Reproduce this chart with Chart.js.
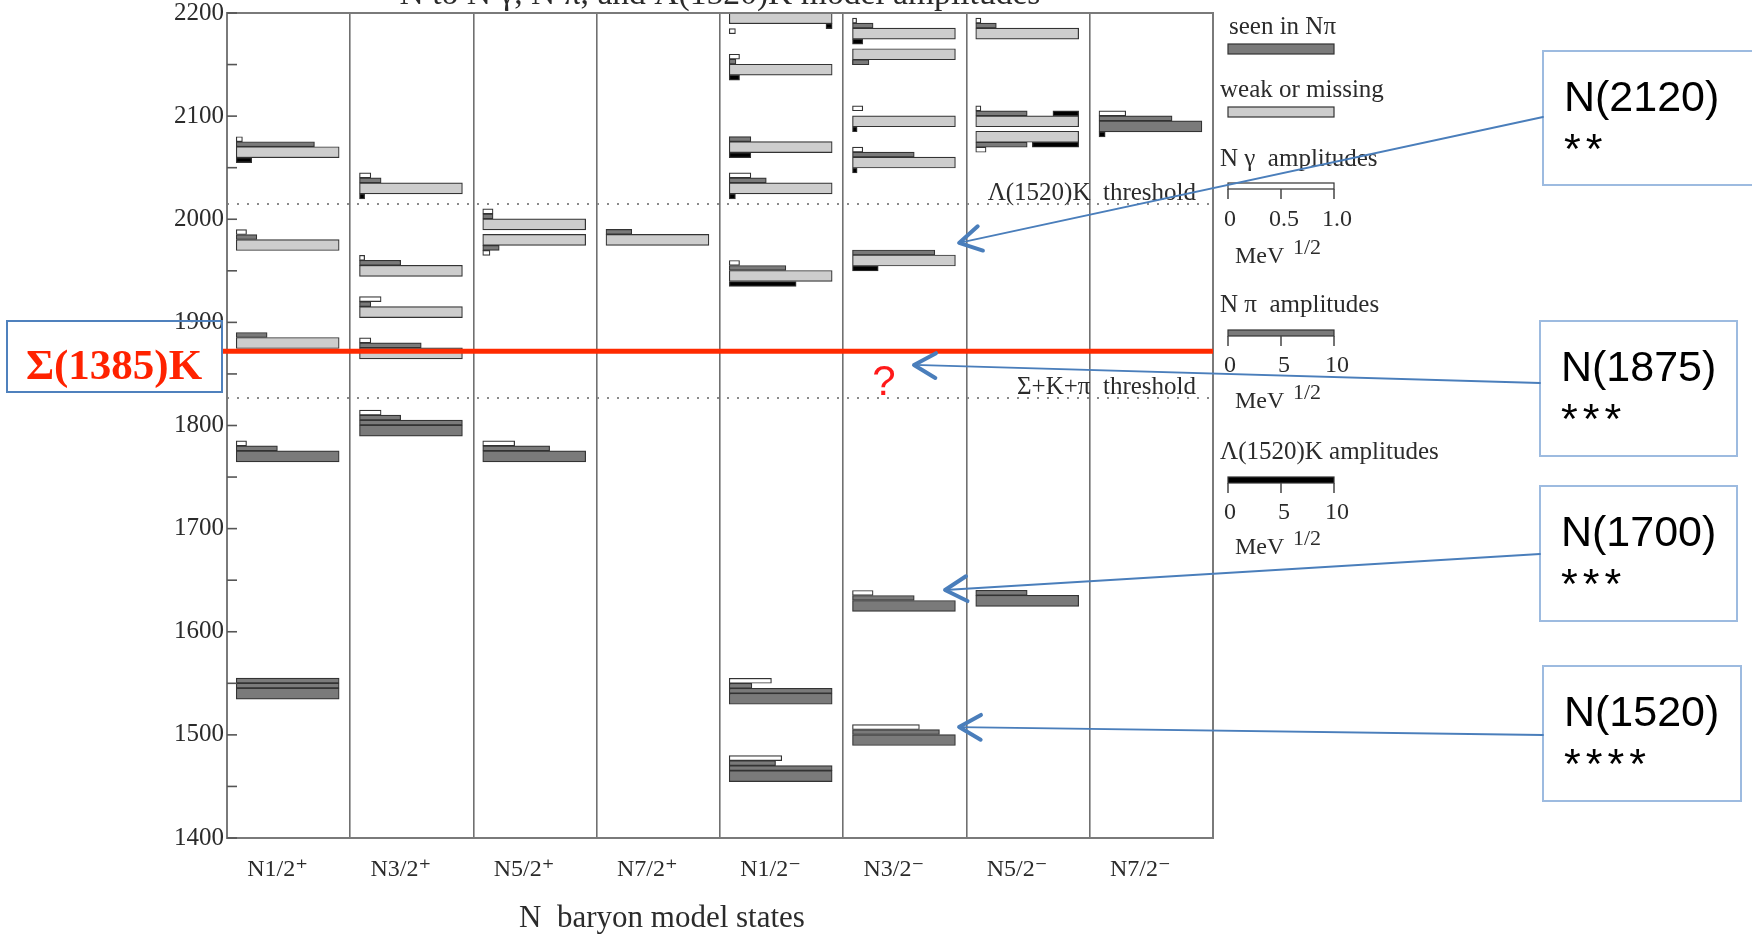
<!DOCTYPE html>
<html>
<head>
<meta charset="utf-8">
<script src="https://cdn.jsdelivr.net/npm/chart.js@4/dist/chart.umd.min.js"></script>
<style>
  html, body { margin: 0; padding: 0; background: #fff; overflow: hidden; }
  #wrap { width: 1752px; height: 934px; position: relative; }
</style>
</head>
<body>
<div id="wrap"><canvas id="c" width="1752" height="934"></canvas></div>
<script>
// ---- data -------------------------------------------------------------
const categories = ['N1/2⁺', 'N3/2⁺', 'N5/2⁺', 'N7/2⁺', 'N1/2⁻', 'N3/2⁻', 'N5/2⁻', 'N7/2⁻'];

// model states: column (index into categories), mass in MeV, seen in Nπ
const stateColumn = [0, 0, 0, 0, 0,   1, 1, 1, 1, 1,   2, 2, 2,   3,
                     4, 4, 4, 4, 4, 4, 4,   5, 5, 5, 5, 5, 5, 5,   6, 6, 6, 6,   7];
const stateMass   = [1540, 1770, 1880, 1975, 2065,   1795, 1870, 1910, 1950, 2030,
                     1770, 1980, 1995,   1980,
                     1460, 1535, 1945, 2030, 2070, 2145, 2195,
                     1495, 1625, 1960, 2055, 2095, 2160, 2180,
                     1630, 2080, 2095, 2180,   2090];
const stateSeen   = [1, 1, 0, 0, 0,   1, 0, 0, 0, 0,   1, 0, 0,   0,
                     1, 1, 0, 0, 0, 0, 0,   1, 1, 0, 0, 0, 0, 0,   1, 0, 0, 0,   1];

// amplitudes in MeV^1/2 (Nγ bar full length = 1.0, Nπ and Λ(1520)K full length = 10)
// a negative Λ(1520)K value is drawn from the right end of the bar
const ampNgamma  = [0, 0.10, 0, 0.10, 0.06,   0.21, 0.11, 0.21, 0.05, 0.11,   0.31, 0.07, 0.10,   0,
                    0.51, 0.41, 0.10, 0.21, 0, 0.10, 0.06,
                    0.65, 0.20, 0, 0.10, 0.10, 0, 0.04,
                    0, 0.10, 0.05, 0.05,   0.26];
const ampNpi     = [20, 4.0, 3.0, 2.0, 7.6,   14.0, 6.0, 1.1, 4.0, 2.1,   6.5, 1.6, 1.0,   2.5,
                    14.5, 12.2, 5.5, 3.6, 2.1, 0.65, 0,
                    8.45, 6.0, 8.0, 6.0, 0, 1.6, 2.0,
                    5.0, 5.0, 5.0, 2.0,   7.1];
const ampLambdaK = [0, 0, 0, 0, 1.5,   0, 0, 0, 0, 0.5,   0, 0, 0,   0,
                    0, 0, 6.5, 0.6, 2.1, 1.0, -0.6,
                    0, 0, 2.5, 0.45, 0.45, 0.45, 1.0,
                    0, -4.5, -2.5, 0,   0.6];

const massRange = [1400, 2200];
const thresholdLabels = ['Λ(1520)K  threshold', 'Σ+K+π  threshold'];
const thresholdMass   = [2015, 1827];
const sigmaKLabel = 'Σ(1385)K';
const sigmaKMass  = 1872;

const calloutNames = ['N(2120)', 'N(1875)', 'N(1700)', 'N(1520)'];
const calloutStars = ['**', '***', '***', '****'];

// ---- geometry of the bar glyphs --------------------------------------
const PLOT_TOP = 13, PLOT_BOTTOM = 838;
const PX_PER_MEV = (PLOT_BOTTOM - PLOT_TOP) / (massRange[1] - massRange[0]);
const BAR_START = 0.075, BAR_LEN = 0.835;   // in column units
const MAIN_PX = 11, ROW_PX = 5;

function placedBelow(i) {
  const c = stateColumn[i], m = stateMass[i];
  const crowded = stateMass.some((m2, j) => j !== i && stateColumn[j] === c && m2 > m && m2 - m < 25);
  return crowded || m + 15 > massRange[1];
}

const mainSeen = [], mainWeak = [], npiBars = [], ngBars = [], lkBars = [];
stateMass.forEach((m, i) => {
  const x0 = stateColumn[i] + BAR_START, x1 = x0 + BAR_LEN;
  const below = placedBelow(i);
  const dir = below ? -1 : 1;
  const rowY = k => m + dir * (MAIN_PX / 2 + ROW_PX * (k + 0.5)) / PX_PER_MEV;

  (stateSeen[i] ? mainSeen : mainWeak).push({ x: [x0, x1], y: m });

  const npi = ampNpi[i];
  const fullRows = Math.floor(npi / 10 + 1e-9);
  const rest = npi - fullRows * 10;
  for (let k = 0; k < fullRows; k++) npiBars.push({ x: [x0, x1], y: rowY(k) });
  if (rest > 0.01) npiBars.push({ x: [x0, x0 + rest / 10 * BAR_LEN], y: rowY(fullRows) });
  const usedRows = Math.max(1, fullRows + (rest > 0.01 ? 1 : 0));

  if (ampNgamma[i] > 0) ngBars.push({ x: [x0, x0 + ampNgamma[i] * BAR_LEN], y: rowY(usedRows) });

  const lk = ampLambdaK[i];
  if (lk) {
    const len = Math.abs(lk) / 10 * BAR_LEN;
    const xs = lk < 0 ? [x1 - len, x1] : [x0, x0 + len];
    const y = (below || lk < 0) ? rowY(0) : m - (MAIN_PX / 2 + ROW_PX / 2) / PX_PER_MEV;
    lkBars.push({ x: xs, y });
  }
});

const SERIF = '"Liberation Serif", "DejaVu Serif", serif';
const SANS = '"Liberation Sans", Arial, sans-serif';
const INK = '#2b2b2b';
const EDGE = '#333333';
const DARK = '#7a7a7a';
const LIGHT = '#cdcdcd';

function barSet(label, data, fill, thick) {
  return {
    label, data, backgroundColor: fill, borderColor: EDGE, borderWidth: 1.2,
    borderSkipped: false, barThickness: thick, stack: 'states',
    xAxisID: 'xv', yAxisID: 'y'
  };
}

// ---- overlay drawing ---------------------------------------------------
function text(ctx, s, x, y, font, color, align) {
  ctx.font = font; ctx.fillStyle = color || INK; ctx.textAlign = align || 'left';
  ctx.textBaseline = 'alphabetic'; ctx.fillText(s, x, y);
}

function legendScale(ctx, y, h, fill, labels, labelBase, unitBase) {
  const x = 1228, w = 106;
  ctx.fillStyle = fill; ctx.fillRect(x, y, w, h);
  ctx.strokeStyle = EDGE; ctx.lineWidth = 1.2; ctx.strokeRect(x, y, w, h);
  ctx.strokeStyle = '#444'; ctx.lineWidth = 1.5;
  [0, 0.5, 1].forEach((f, k) => {
    const tx = x + f * w;
    ctx.beginPath(); ctx.moveTo(tx, y + h); ctx.lineTo(tx, y + h + 10); ctx.stroke();
    text(ctx, labels[k], tx + (k === 0 ? 2 : 3), labelBase, '24px ' + SERIF, INK, 'center');
  });
  text(ctx, 'MeV', 1235, unitBase, '24px ' + SERIF);
  text(ctx, '1/2', 1293, unitBase - 9, '22px ' + SERIF);
}

function arrow(ctx, x1, y1, x2, y2) {
  ctx.strokeStyle = '#4a7ebb';
  ctx.lineWidth = 1.8; ctx.lineCap = 'round';
  ctx.beginPath(); ctx.moveTo(x1, y1); ctx.lineTo(x2, y2); ctx.stroke();
  const a = Math.atan2(y1 - y2, x1 - x2), L = 25, s = 0.52;
  ctx.lineWidth = 4; ctx.lineJoin = 'round';
  ctx.beginPath();
  ctx.moveTo(x2 + L * Math.cos(a + s), y2 + L * Math.sin(a + s));
  ctx.lineTo(x2, y2);
  ctx.lineTo(x2 + L * Math.cos(a - s), y2 + L * Math.sin(a - s));
  ctx.stroke();
  ctx.lineCap = 'butt'; ctx.lineJoin = 'miter';
}

// callout boxes [x, y, w, h], arrow start y on the box edge, arrow tip in (column, mass)
const calloutBoxes = [[1543, 51, 240, 134], [1540, 321, 197, 135], [1540, 486, 197, 135], [1543, 666, 198, 135]];
const calloutStartY = [117, 383, 554, 735];
const calloutTips = [[5.94, 1977], [5.574, 1858.7], [5.826, 1640.5], [5.94, 1507.6]];

const overlay = {
  id: 'overlay',
  beforeDatasetsDraw(chart) {
    const ctx = chart.ctx, y = chart.scales.y, { left, right } = chart.chartArea;
    ctx.save();
    thresholdMass.forEach((m, k) => {
      const py = Math.round(y.getPixelForValue(m));
      ctx.strokeStyle = '#8a8a8a'; ctx.lineWidth = 2; ctx.setLineDash([2, 8]);
      ctx.beginPath(); ctx.moveTo(left, py); ctx.lineTo(right, py); ctx.stroke();
      ctx.setLineDash([]);
      text(ctx, thresholdLabels[k], right - 17, py - 4, '25px ' + SERIF, INK, 'right');
    });
    ctx.restore();
  },
  afterDraw(chart) {
    const ctx = chart.ctx, y = chart.scales.y, xv = chart.scales.xv;
    const { left, right, top, bottom } = chart.chartArea;
    ctx.save();

    // frame and inward mass ticks
    ctx.strokeStyle = '#7a7a7a'; ctx.lineWidth = 2;
    ctx.strokeRect(left, top, right - left, bottom - top);
    ctx.strokeStyle = '#555'; ctx.lineWidth = 1.6;
    y.ticks.forEach(t => {
      const py = y.getPixelForValue(t.value);
      ctx.beginPath(); ctx.moveTo(left, py); ctx.lineTo(left + 10, py); ctx.stroke();
    });

    // title (runs off the top edge)
    const title = 'N to N γ, N π, and Λ(1520)K model amplitudes';
    ctx.font = '34px ' + SERIF;
    const fs = 34 * 641 / ctx.measureText(title).width;
    text(ctx, title, (left + right) / 2, 4, fs.toFixed(1) + 'px ' + SERIF, INK, 'center');

    // axis title
    text(ctx, 'N  baryon model states', 662, 927, '31px ' + SERIF, INK, 'center');

    // Σ(1385)K line and label
    const sy = y.getPixelForValue(sigmaKMass);
    ctx.strokeStyle = '#ff2a00'; ctx.lineWidth = 5;
    ctx.beginPath(); ctx.moveTo(222, sy); ctx.lineTo(right, sy); ctx.stroke();
    ctx.strokeStyle = '#4f81bd'; ctx.lineWidth = 2;
    ctx.strokeRect(7, 321, 215, 71);
    text(ctx, sigmaKLabel, 114, 379, 'bold 43px ' + SERIF, '#ff2200', 'center');

    // question mark near the empty N3/2- slot
    text(ctx, '?', 884, 395, '42px ' + SANS, '#ff1a1a', 'center');

    // legend
    text(ctx, 'seen in Nπ', 1229, 34, '25px ' + SERIF);
    ctx.fillStyle = DARK; ctx.fillRect(1228, 44, 106, 10);
    ctx.strokeStyle = EDGE; ctx.lineWidth = 1.2; ctx.strokeRect(1228, 44, 106, 10);
    text(ctx, 'weak or missing', 1220, 97, '25px ' + SERIF);
    ctx.fillStyle = LIGHT; ctx.fillRect(1228, 107, 106, 10);
    ctx.strokeRect(1228, 107, 106, 10);
    text(ctx, 'N γ  amplitudes', 1220, 166, '25px ' + SERIF);
    legendScale(ctx, 183, 6, '#ffffff', ['0', '0.5', '1.0'], 226, 263);
    text(ctx, 'N π  amplitudes', 1220, 312, '25px ' + SERIF);
    legendScale(ctx, 330, 6, DARK, ['0', '5', '10'], 372, 408);
    text(ctx, 'Λ(1520)K amplitudes', 1220, 459, '25px ' + SERIF);
    legendScale(ctx, 477, 6, '#000000', ['0', '5', '10'], 519, 554);

    // callouts
    calloutBoxes.forEach((b, k) => {
      ctx.fillStyle = '#fff'; ctx.fillRect(b[0], b[1], b[2], b[3]);
      ctx.strokeStyle = '#9dbbe0'; ctx.lineWidth = 2; ctx.strokeRect(b[0], b[1], b[2], b[3]);
      text(ctx, calloutNames[k], b[0] + 21, b[1] + 60, '43px ' + SANS, '#000');
      ctx.letterSpacing = '5px';
      text(ctx, calloutStars[k], b[0] + 21, b[1] + 112, '43px ' + SANS, '#000');
      ctx.letterSpacing = '0px';
    });
    calloutBoxes.forEach((b, k) => {
      const tip = calloutTips[k];
      arrow(ctx, b[0], calloutStartY[k], xv.getPixelForValue(tip[0]), y.getPixelForValue(tip[1]));
    });
    ctx.restore();
  }
};

new Chart(document.getElementById('c'), {
  type: 'bar',
  data: {
    datasets: [
      barSet('seen in Nπ', mainSeen, DARK, MAIN_PX),
      barSet('weak or missing', mainWeak, LIGHT, MAIN_PX),
      barSet('Nπ amplitudes', npiBars, DARK, ROW_PX),
      barSet('Nγ amplitudes', ngBars, '#ffffff', ROW_PX),
      barSet('Λ(1520)K amplitudes', lkBars, '#000000', ROW_PX)
    ]
  },
  options: {
    indexAxis: 'y',
    responsive: false,
    animation: false,
    events: [],
    layout: { padding: { top: PLOT_TOP, right: 1752 - 1213, bottom: 0, left: 0 } },
    plugins: { legend: { display: false }, tooltip: { enabled: false }, title: { display: false } },
    scales: {
      y: {
        type: 'linear', position: 'left', min: massRange[0], max: massRange[1], offset: false,
        grid: { display: false, drawTicks: false, offset: false }, border: { display: false },
        ticks: {
          stepSize: 50, autoSkip: false, padding: 3, color: INK,
          font: { family: SERIF, size: 25 },
          callback: v => (v % 100 === 0 ? String(v) : '')
        },
        afterFit: s => { s.width = 227; s.paddingTop = 0; s.paddingBottom = 0; }
      },
      xv: { type: 'linear', display: false, min: 0, max: 8, stacked: false },
      x: {
        type: 'category', labels: categories, position: 'bottom', offset: true,
        grid: { display: true, offset: true, drawTicks: false, color: '#707070', lineWidth: 1.6 },
        border: { display: false },
        ticks: { autoSkip: false, maxRotation: 0, padding: 17, labelOffset: -11, color: INK, font: { family: SERIF, size: 24 } },
        afterFit: s => { s.height = 96; s.paddingLeft = 0; s.paddingRight = 0; }
      }
    }
  },
  plugins: [overlay]
});
</script>
</body>
</html>
